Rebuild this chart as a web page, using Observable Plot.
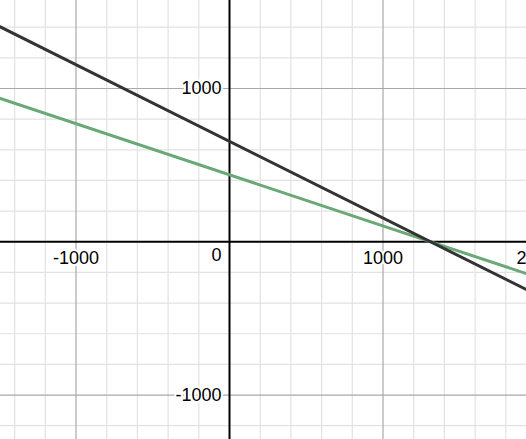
<!DOCTYPE html>
<html>
<head>
<meta charset="utf-8">
<script src="https://cdn.jsdelivr.net/npm/d3@7"></script>
<script src="https://cdn.jsdelivr.net/npm/@observablehq/plot@0.6"></script>
<style>
  html, body { margin: 0; padding: 0; background: #fff; }
  svg { display: block; }
</style>
</head>
<body>
<div id="chart"></div>
<script>
// Line endpoints (straight lines)
const lineX = [-1500, 2000];
const blackY = [1405, -345];
const greenY = [937, -230];

// Tick values / labels
const xTickValues = [-1000, 1000, 2000];
const xTickLabels = ["-1000", "1000", "2000"];
const yTickValues = [1000, -1000];
const yTickLabels = ["1000", "-1000"];
const minorStep = 200;
const majorValues = [-1000, 1000];

const xDomain = [-1492, 1935];
const yDomain = [-1290, 1574];

const blackData = lineX.map((x, i) => ({x, y: blackY[i]}));
const greenData = lineX.map((x, i) => ({x, y: greenY[i]}));
const minorX = d3.range(-1400, 2000, minorStep).filter(v => v % 1000 !== 0);
const minorY = d3.range(-1200, 1600, minorStep).filter(v => v % 1000 !== 0);
const xLabels = xTickValues.map((v, i) => ({v, t: xTickLabels[i]}));
const yLabels = yTickValues.map((v, i) => ({v, t: yTickLabels[i]}));

const font = "Liberation Sans, Arial, sans-serif";

const chart = Plot.plot({
  width: 526,
  height: 439,
  margin: 0,
  x: {domain: xDomain, range: [0, 526], axis: null},
  y: {domain: yDomain, range: [439, 0], axis: null},
  style: {fontFamily: font, background: "#fff"},
  marks: [
    Plot.ruleX(minorX, {stroke: "#e2e2e2", strokeWidth: 1.2}),
    Plot.ruleY(minorY, {stroke: "#e2e2e2", strokeWidth: 1.2}),
    Plot.ruleX(majorValues, {stroke: "#a8a8a8", strokeWidth: 1.2}),
    Plot.ruleY(majorValues, {stroke: "#a8a8a8", strokeWidth: 1.2}),
    Plot.ruleX([0], {stroke: "#000", strokeWidth: 2}),
    Plot.ruleY([0], {stroke: "#000", strokeWidth: 2}),
    Plot.line(greenData, {x: "x", y: "y", stroke: "#6aa877", strokeWidth: 3, clip: true}),
    Plot.line(blackData, {x: "x", y: "y", stroke: "#333333", strokeWidth: 3, clip: true}),
    Plot.text(xLabels, {x: "v", y: 0, text: "t", dy: 16, fontSize: 18, fill: "#000",
      stroke: "#fff", strokeWidth: 4, paintOrder: "stroke", textAnchor: "middle"}),
    Plot.text(yLabels, {x: 0, y: "v", text: "t", dx: -8, fontSize: 18, fill: "#000",
      stroke: "#fff", strokeWidth: 4, paintOrder: "stroke", textAnchor: "end"}),
    Plot.text(["0"], {x: 0, y: 0, text: d => d, dx: -13, dy: 13, fontSize: 18, fill: "#000",
      stroke: "#fff", strokeWidth: 4, paintOrder: "stroke", textAnchor: "middle"})
  ]
});
document.getElementById("chart").appendChild(chart);
</script>
</body>
</html>
